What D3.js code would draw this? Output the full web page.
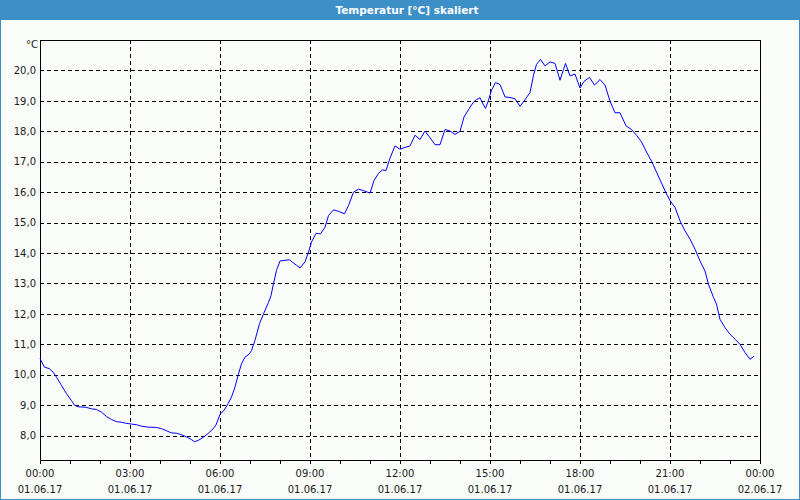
<!DOCTYPE html>
<html>
<head>
<meta charset="utf-8">
<script src="https://cdn.jsdelivr.net/npm/d3@7"></script>
<style>
  html, body { margin: 0; padding: 0; background: #fafcfa; }
  svg { display: block; }
  text { font-family: "DejaVu Sans", Verdana, sans-serif; }
</style>
</head>
<body>
<svg id="chart" width="800" height="500"></svg>
<script>
// ---- data ----
const title = "Temperatur [°C] skaliert";
const unitLabel = "°C";
// minutes since 01.06.17 00:00
const minutes = [0, 9, 19, 26, 33, 43, 53, 63, 69, 76, 93, 103, 113, 123, 133, 143, 153, 163, 171, 183,
  193, 203, 216, 233, 243, 253, 263, 273, 283, 293, 303, 309, 316, 326, 336, 346, 352, 360, 368, 376,
  383, 390, 397, 403, 410, 419, 423, 430, 439, 447, 457, 462, 467, 473, 480, 490, 499, 507, 513, 520,
  530, 537, 543, 552, 561, 570, 577, 587, 597, 609, 617, 627, 637, 647, 660, 668, 677, 685, 692, 700,
  710, 720, 730, 740, 750, 760, 770, 780, 790, 800, 810, 820, 830, 840, 848, 857, 867, 873, 880, 885,
  891, 897, 903, 911, 920, 930, 940, 950, 960, 970, 980, 987, 993, 1001, 1010, 1020, 1030, 1040, 1047, 1051,
  1060, 1070, 1080, 1088, 1099, 1109, 1120, 1130, 1140, 1150, 1160, 1172, 1183, 1193, 1203, 1213, 1223, 1233, 1243, 1253,
  1261, 1270, 1280, 1290, 1300, 1310, 1320, 1330, 1337, 1347, 1353, 1360, 1370, 1380, 1390, 1400, 1410, 1420, 1428];
const temperature = [10.53, 10.25, 10.2, 10.09, 9.92, 9.65, 9.38, 9.15, 9.0, 8.95, 8.93, 8.88, 8.86, 8.77, 8.63, 8.53, 8.46, 8.44, 8.41, 8.38,
  8.36, 8.31, 8.28, 8.27, 8.23, 8.16, 8.09, 8.08, 8.03, 7.96, 7.87, 7.80, 7.84, 7.94, 8.07, 8.22, 8.35, 8.7, 8.83, 9.05,
  9.27, 9.6, 10.03, 10.36, 10.58, 10.69, 10.8, 11.13, 11.68, 12.0, 12.38, 12.6, 13.0, 13.43, 13.74, 13.76, 13.78, 13.67, 13.6, 13.51,
  13.71, 14.03, 14.36, 14.65, 14.63, 14.85, 15.23, 15.42, 15.37, 15.29, 15.56, 16.0, 16.1, 16.05, 15.97, 16.38, 16.62, 16.73, 16.71, 17.12,
  17.52, 17.41, 17.47, 17.52, 17.87, 17.73, 18.01, 17.79, 17.56, 17.56, 18.06, 18.01, 17.9, 18.0, 18.47, 18.71, 18.96, 19.04, 19.1, 18.93,
  18.75, 19.02, 19.35, 19.6, 19.54, 19.13, 19.11, 19.07, 18.82, 19.04, 19.27, 19.84, 20.2, 20.36, 20.15, 20.28, 20.23, 19.68, 20.03, 20.23,
  19.82, 19.88, 19.42, 19.64, 19.77, 19.52, 19.7, 19.52, 18.99, 18.61, 18.61, 18.18, 18.06, 17.87, 17.65, 17.32, 17.02, 16.66, 16.3, 15.94,
  15.7, 15.5, 15.06, 14.73, 14.46, 14.13, 13.74, 13.41, 12.97, 12.54, 12.32, 11.82, 11.55, 11.33, 11.17, 11.0, 10.73, 10.51, 10.61];
const yTicks = [8, 9, 10, 11, 12, 13, 14, 15, 16, 17, 18, 19, 20];
const xMajorTicks = [0, 180, 360, 540, 720, 900, 1080, 1260, 1440];
const xMinorTicks = [0, 60, 120, 180, 240, 300, 360, 420, 480, 540, 600, 660, 720, 780, 840, 900, 960, 1020, 1080, 1140, 1200, 1260, 1320, 1380, 1440];
const timeLabels = ["00:00", "03:00", "06:00", "09:00", "12:00", "15:00", "18:00", "21:00", "00:00"];
const dateLabels = ["01.06.17", "01.06.17", "01.06.17", "01.06.17", "01.06.17", "01.06.17", "01.06.17", "01.06.17", "02.06.17"];

// ---- drawing ----
(function () {
const W = 800, H = 500;
const pL = 40, pR = 760, pT = 40, pB = 460;
const svg = d3.select("#chart");

const x = d3.scaleLinear().domain([0, 1440]).range([pL, pR]);
const y = d3.scaleLinear().domain([7.2, 21.0]).range([pB, pT]);

// background + outer border
svg.append("rect").attr("x", 0).attr("y", 0).attr("width", W).attr("height", H).attr("fill", "#fafcfa");
svg.append("rect").attr("x", 0).attr("y", 0).attr("width", W).attr("height", 20).attr("fill", "#3c8fc7");
svg.append("rect").attr("x", 0.5).attr("y", 0.5).attr("width", W - 1).attr("height", H - 1)
  .attr("fill", "none").attr("stroke", "#3c8fc7").attr("stroke-width", 1);
svg.append("text").attr("x", 407).attr("y", 14).attr("text-anchor", "middle")
  .attr("fill", "#ffffff").attr("font-size", "10.5px").attr("font-weight", "bold").text(title);

// grid
const grid = svg.append("g").attr("stroke", "#000").attr("stroke-width", 1).attr("stroke-dasharray", "4,3").attr("shape-rendering", "crispEdges");
grid.selectAll("line.h").data(yTicks).join("line").attr("class", "h")
  .attr("x1", pL).attr("x2", pR)
  .attr("y1", d => Math.round(y(d)) + 0.5).attr("y2", d => Math.round(y(d)) + 0.5);
grid.selectAll("line.v").data(xMajorTicks.slice(1, -1)).join("line").attr("class", "v")
  .attr("y1", pT).attr("y2", pB)
  .attr("x1", d => Math.round(x(d)) + 0.5).attr("x2", d => Math.round(x(d)) + 0.5);

// y axis labels
const yAxis = d3.axisLeft(y).tickValues(yTicks).tickSize(0).tickPadding(4)
  .tickFormat(d => d.toFixed(1).replace(".", ","));
const gy = svg.append("g").attr("transform", `translate(${pL},0)`).call(yAxis);
gy.select(".domain").remove();
gy.selectAll("text").attr("font-size", "10px").attr("fill", "#1a1a1a").attr("font-family", "DejaVu Sans, sans-serif");

svg.append("text").attr("x", 38).attr("y", 48).attr("text-anchor", "end")
  .attr("font-size", "10px").attr("fill", "#1a1a1a").text(unitLabel);

// x axis ticks
const xAxis = d3.axisBottom(x).tickValues(xMinorTicks).tickSize(4).tickFormat("");
const gx = svg.append("g").attr("transform", `translate(0,${pB})`).call(xAxis);
gx.select(".domain").remove();
gx.selectAll("line").attr("stroke", "#000").attr("shape-rendering", "crispEdges");

// x labels (two lines)
const lbl = svg.append("g").attr("font-size", "10px").attr("fill", "#1a1a1a").attr("text-anchor", "middle");
lbl.selectAll("text.t").data(xMajorTicks).join("text").attr("class", "t")
  .attr("x", d => x(d)).attr("y", 477).text((d, i) => timeLabels[i]);
lbl.selectAll("text.d").data(xMajorTicks).join("text").attr("class", "d")
  .attr("x", d => x(d)).attr("y", 493).text((d, i) => dateLabels[i]);

// frame
svg.append("rect").attr("x", pL + 0.5).attr("y", pT + 0.5).attr("width", pR - pL).attr("height", pB - pT)
  .attr("fill", "none").attr("stroke", "#000").attr("stroke-width", 1).attr("shape-rendering", "crispEdges");

// line
const data = minutes.map((m, i) => ({ m, v: temperature[i] }));
svg.append("path").datum(data)
  .attr("fill", "none").attr("stroke", "#0000ff").attr("stroke-width", 1)
  .attr("d", d3.line().x(d => x(d.m)).y(d => y(d.v)));
})();
</script>
</body>
</html>
